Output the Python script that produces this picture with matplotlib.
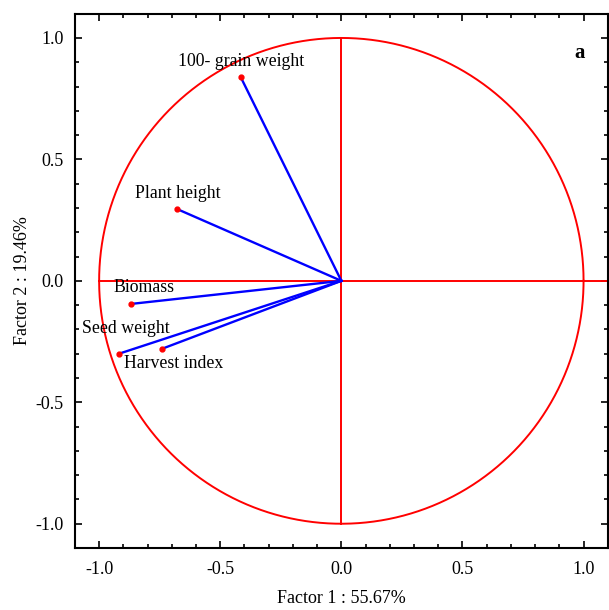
import numpy as np
import matplotlib
matplotlib.use("Agg")
import matplotlib.pyplot as plt
from matplotlib.ticker import MultipleLocator, FormatStrFormatter

plt.rcParams['font.family'] = ['Liberation Serif', 'DejaVu Serif']

variables = ["100- grain weight", "Plant height", "Biomass", "Seed weight", "Harvest index"]
factor1 = [-0.416, -0.679, -0.868, -0.918, -0.741]
factor2 = [0.840, 0.296, -0.095, -0.300, -0.280]
# label offsets from each point (data units)
label_dx = [0.004, 0.004, 0.055, 0.029, 0.05]
label_dy = [0.061, 0.062, 0.066, 0.102, -0.062]

fig = plt.figure(figsize=(6.09, 6.10), dpi=100)
ax = fig.add_axes([0.123, 0.1016, 0.875, 0.876])
ax.set_xlim(-1.1, 1.1)
ax.set_ylim(-1.1, 1.1)

t = np.linspace(0, 2 * np.pi, 600)
ax.plot(np.cos(t), np.sin(t), color='red', lw=1.4)
ax.plot([-1, 1.1], [0, 0], color='red', lw=1.4)
ax.plot([0, 0], [-1, 1], color='red', lw=1.4)

for name, x, y, dx, dy in zip(variables, factor1, factor2, label_dx, label_dy):
    ax.plot([0, x], [0, y], color='blue', lw=1.7)
    ax.plot(x, y, 'o', color='red', ms=3.5, mec='red')
    ax.text(x + dx, y + dy, name, fontsize=12.8, ha='center', va='center')

ax.text(0.985, 0.94, 'a', fontsize=15, fontweight='bold', ha='center', va='center')

ax.set_xticks([-1.0, -0.5, 0.0, 0.5, 1.0])
ax.set_yticks([-1.0, -0.5, 0.0, 0.5, 1.0])
ax.xaxis.set_minor_locator(MultipleLocator(0.1))
ax.yaxis.set_minor_locator(MultipleLocator(0.1))
ax.xaxis.set_major_formatter(FormatStrFormatter('%.1f'))
ax.yaxis.set_major_formatter(FormatStrFormatter('%.1f'))
ax.tick_params(which='both', direction='in', top=True, right=True, labelsize=13, width=1.2)
ax.tick_params(which='major', length=5)
ax.tick_params(which='minor', length=3)
ax.tick_params(axis='x', pad=9)
ax.tick_params(axis='y', pad=8)
for s in ax.spines.values():
    s.set_linewidth(1.5)

ax.set_xlabel('Factor 1 : 55.67%', fontsize=13, labelpad=9)
ax.set_ylabel('Factor 2 : 19.46%', fontsize=13, labelpad=3)

fig.savefig('out.png', dpi=100)
